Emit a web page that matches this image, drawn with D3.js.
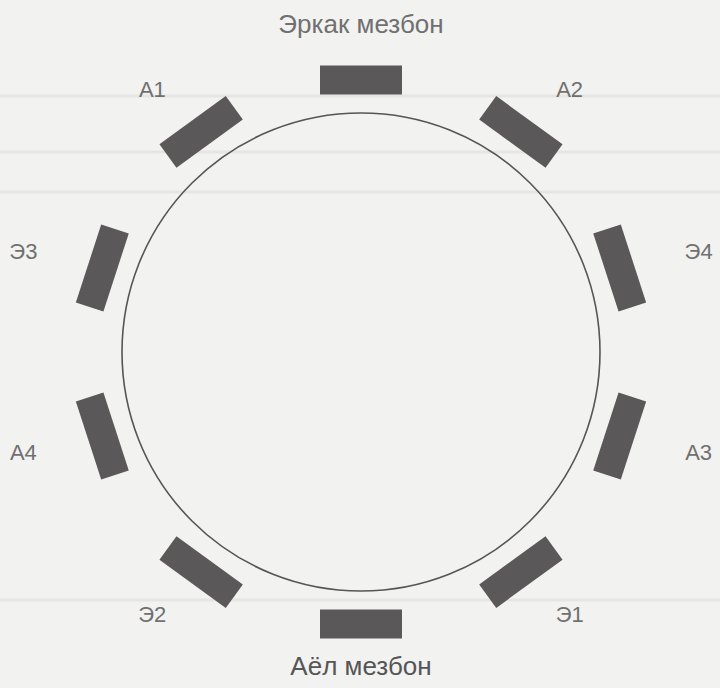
<!DOCTYPE html>
<html>
<head>
<meta charset="utf-8">
<script src="https://cdn.jsdelivr.net/npm/d3@7"></script>
<style>
  body { margin: 0; background: #f2f2f0; }
  svg { display: block; }
</style>
</head>
<body>
<div id="chart"></div>
<script>
// size of the picture
const WIDTH = 720;
const HEIGHT = 688;

// seats clockwise, starting from the top
const seatNames = ["Эркак мезбон", "А2", "Э4", "А3", "Э1", "Аёл мезбон", "Э2", "А4", "Э3", "А1"];
const hostSeats = ["Эркак мезбон", "Аёл мезбон"];

const CX = 361, CY = 352;
const TABLE_R = 239;
const SEAT_R = 272;
// labels sit on a slightly flattened ring
const LABEL_RX = 355, LABEL_RY = 324;
const HOST_R = 321, HOST_SHIFT = -7;

let angle = d3.scaleLinear()
    .domain([0, seatNames.length])
    .range([0, 2 * Math.PI]);

let seats = seatNames.map((name, i) => ({ name: name, a: angle(i), host: hostSeats.includes(name) }));

let svg = d3.select("#chart")
    .append("svg")
    .attr("width", WIDTH)
    .attr("height", HEIGHT);

// faint scan lines of the paper
[96, 152, 192, 600].forEach(y => {
    svg.append("line")
        .attr("x1", 0).attr("x2", WIDTH)
        .attr("y1", y).attr("y2", y)
        .attr("stroke", "#e5e5e3")
        .attr("stroke-width", 3);
});

// table
svg.append("circle")
    .attr("cx", CX)
    .attr("cy", CY)
    .attr("r", TABLE_R)
    .attr("fill", "none")
    .attr("stroke", "#555")
    .attr("stroke-width", 1.6);

// chairs
svg.selectAll(".chair")
    .data(seats)
    .enter()
    .append("rect")
    .attr("class", "chair")
    .attr("x", -41)
    .attr("y", -14.5)
    .attr("width", 82)
    .attr("height", 29)
    .attr("fill", "#5a5858")
    .attr("transform", d => "translate(" + (CX + SEAT_R * Math.sin(d.a)) + "," + (CY - SEAT_R * Math.cos(d.a)) + ") rotate(" + (d.a * 180 / Math.PI) + ")");

// names
svg.selectAll(".label")
    .data(seats)
    .enter()
    .append("text")
    .attr("class", "label")
    .attr("x", d => CX + LABEL_RX * Math.sin(d.a))
    .attr("y", d => d.host ? CY + HOST_SHIFT - HOST_R * Math.cos(d.a) : CY - LABEL_RY * Math.cos(d.a))
    .attr("text-anchor", "middle")
    .attr("dominant-baseline", "central")
    .attr("font-family", "Liberation Sans, Arial, sans-serif")
    .attr("font-size", d => d.host ? 26 : 22)
    .attr("fill", d => d.name == "Аёл мезбон" ? "#555" : "#707070")
    .text(d => d.name);
</script>
</body>
</html>
